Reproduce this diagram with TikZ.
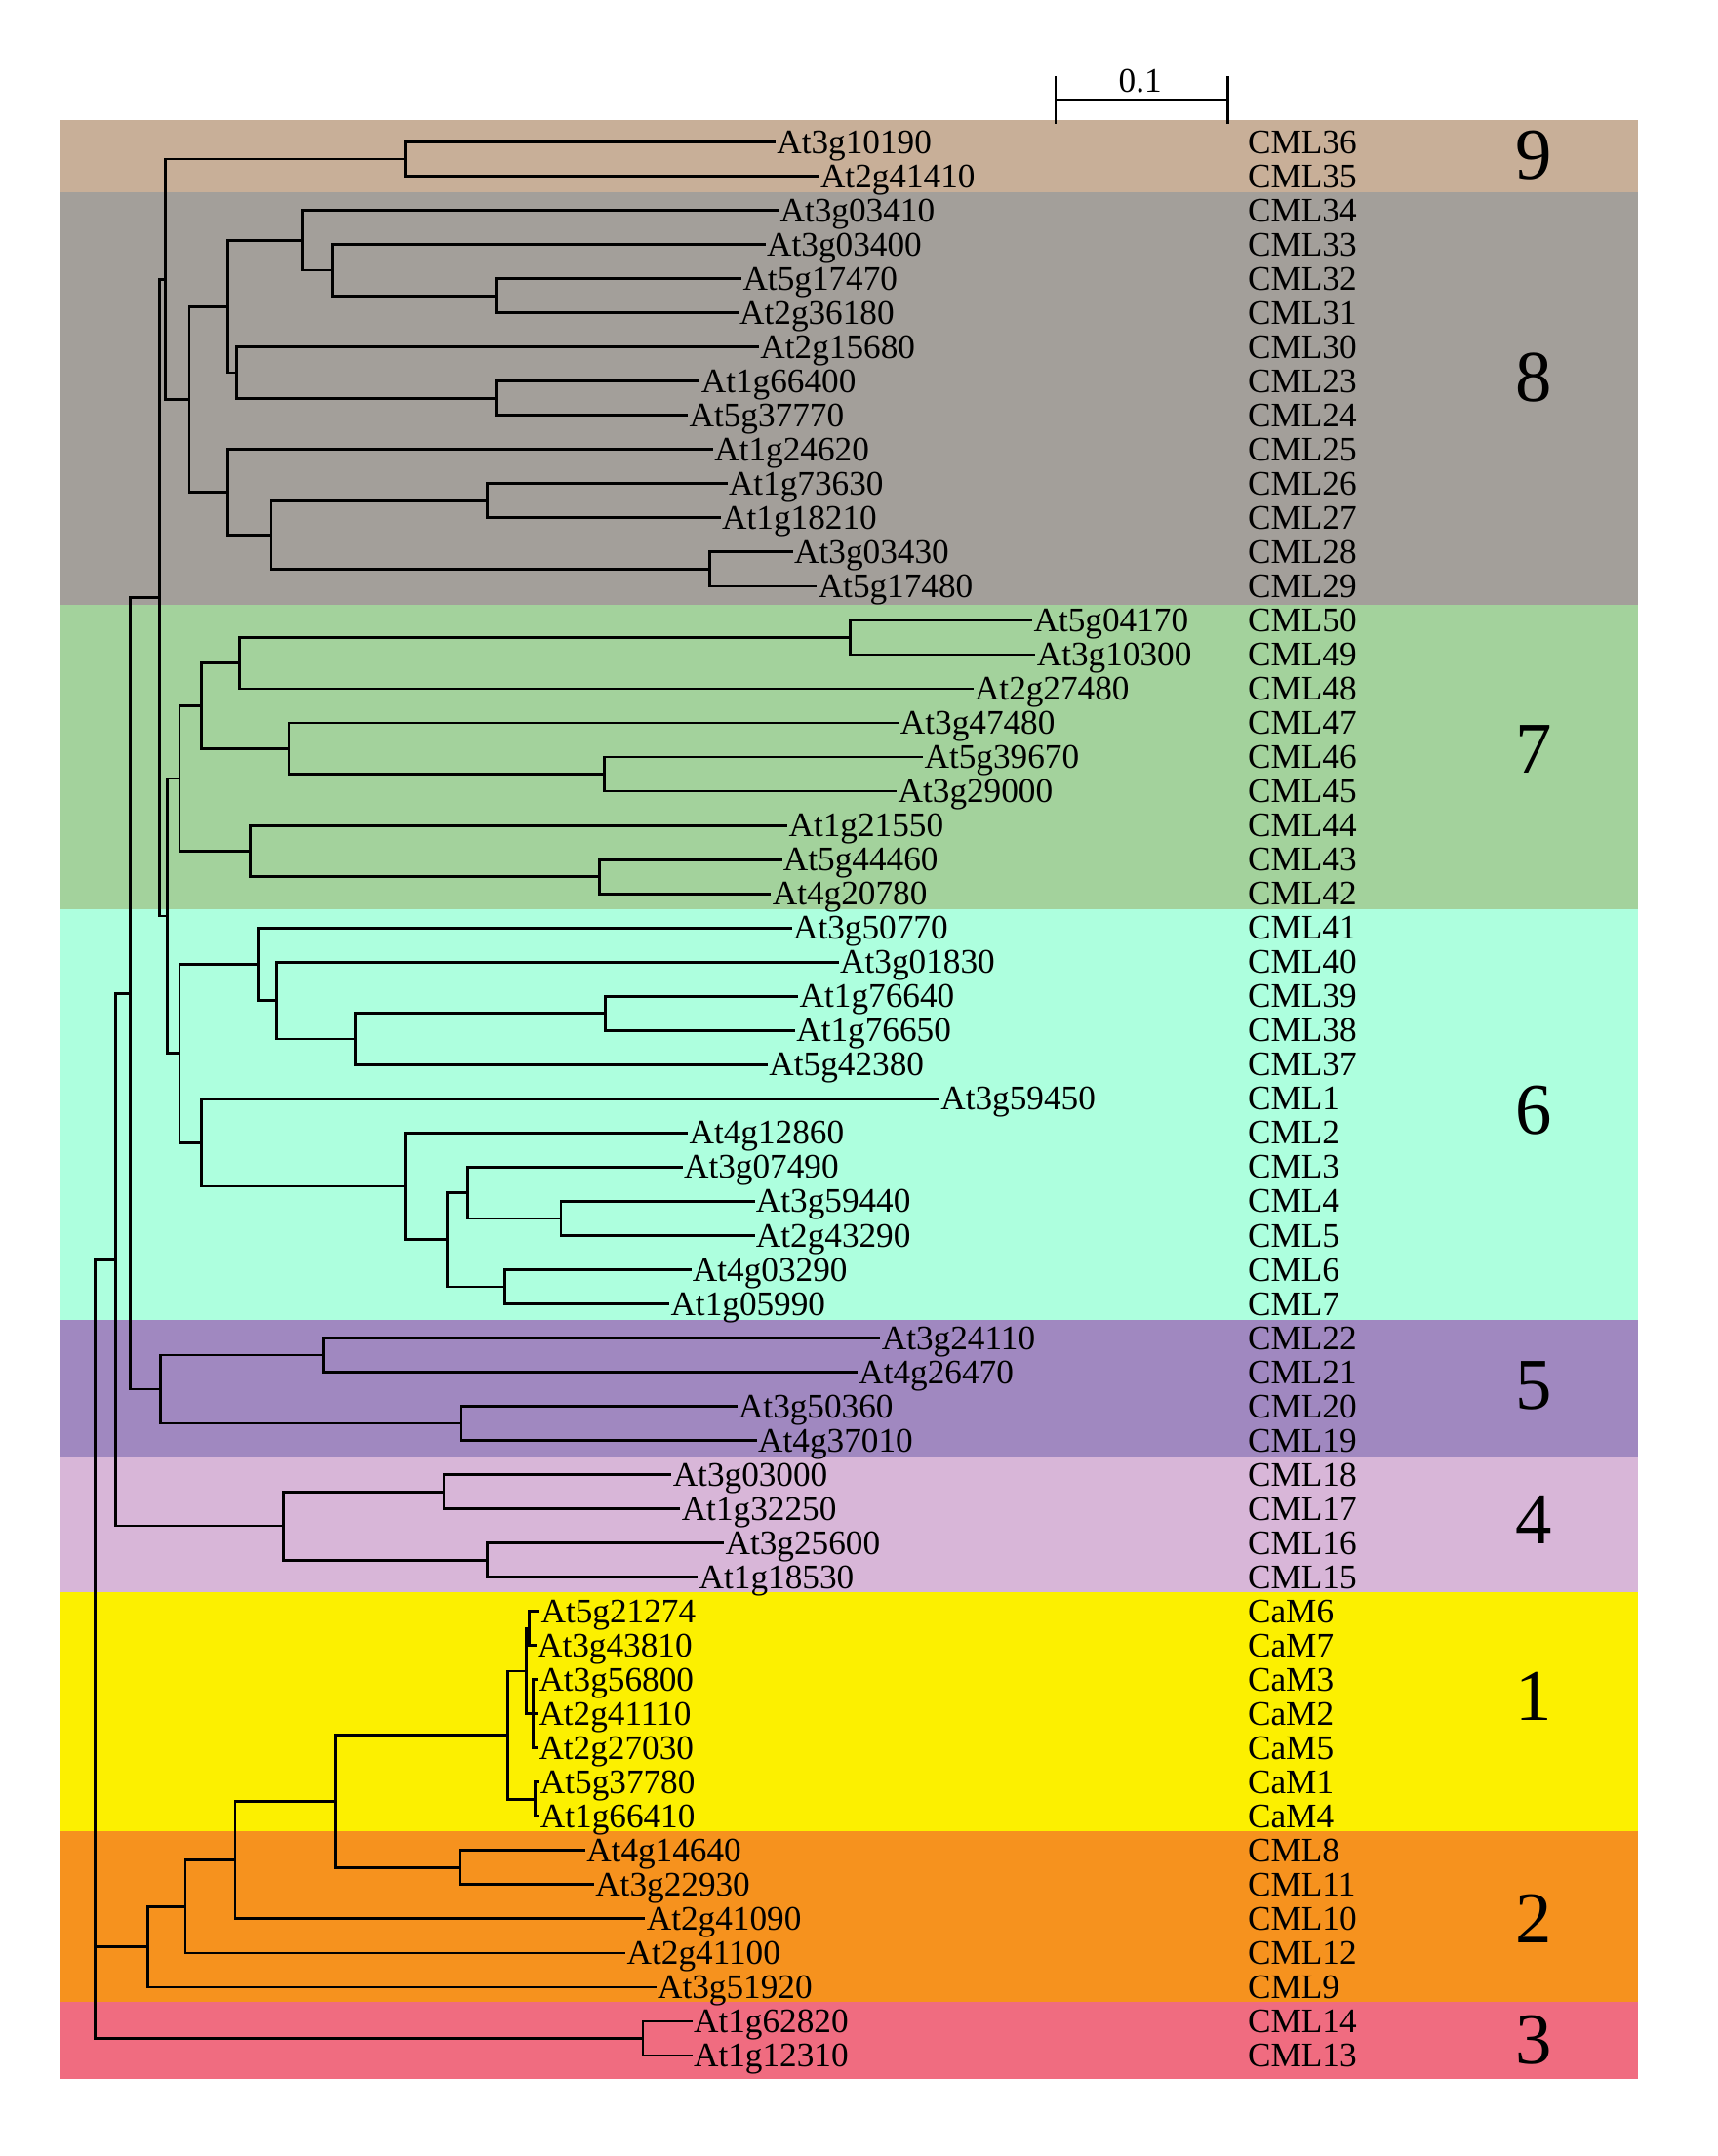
\documentclass[tikz,border=0pt]{standalone}
\usepackage{fontspec}
\setmainfont{Liberation Serif}
\newcommand\labfont{\fontsize{12.5}{14}\selectfont}
\newcommand\cladefont{\fontsize{26.5}{30}\selectfont}
\definecolor{cnine}{RGB}{200,175,152}
\definecolor{ceight}{RGB}{163,159,154}
\definecolor{cseven}{RGB}{163,210,156}
\definecolor{csix}{RGB}{173,255,222}
\definecolor{cfive}{RGB}{160,136,192}
\definecolor{cfour}{RGB}{216,182,216}
\definecolor{cone}{RGB}{252,240,0}
\definecolor{ctwo}{RGB}{246,146,30}
\definecolor{cthree}{RGB}{240,108,128}
\begin{document}
\begin{tikzpicture}[x=0.5pt,y=-0.5pt,
  br/.style={line width=1pt, line cap=rect},
  leaf/.style={anchor=west, inner xsep=0.8pt, inner ysep=0pt, text height=8.25pt, text depth=0pt, font=\labfont},
  cml/.style={leaf},
  num/.style={inner sep=0pt, text height=18pt, text depth=0pt, font=\cladefont}]
\useasboundingbox (0,0) rectangle (1249,1568);
% clade bands
\fill[cnine]  (43,87.3) rectangle (1191,140);
\fill[ceight] (43,140) rectangle (1191,440);
\fill[cseven] (43,440) rectangle (1191,661);
\fill[csix]   (43,661) rectangle (1191,960);
\fill[cfive]  (43,960) rectangle (1191,1059);
\fill[cfour]  (43,1059) rectangle (1191,1158);
\fill[cone]   (43,1158) rectangle (1191,1332);
\fill[ctwo]   (43,1332) rectangle (1191,1456);
\fill[cthree] (43,1456) rectangle (1191,1512);
% scale bar
\coordinate (sbl) at (767.7,72.6);
\coordinate (sbr) at (893.1,72.6);
\draw[br] (sbl) -- (sbr);
\draw[br] ([yshift=-8.2]sbl) -- ([yshift=8.2]sbl);
\draw[br] ([yshift=-8.2]sbr) -- ([yshift=8.2]sbr);
\node[anchor=base, inner sep=0pt, font=\labfont] (sbt) at (829.2,67.4) {0.1};
% leaves
\foreach \x/\t [count=\i from 0] in {
 563/At3g10190, 594.7/At2g41410, 565.3/At3g03410, 555.8/At3g03400, 538.3/At5g17470,
 535.9/At2g36180, 551/At2g15680, 508/At1g66400, 499.3/At5g37770, 517.6/At1g24620,
 528/At1g73630, 523.2/At1g18210, 575.7/At3g03430, 593.1/At5g17480, 749.8/At5g04170,
 752.1/At3g10300, 706.8/At2g27480, 652.8/At3g47480, 670.3/At5g39670, 651.2/At3g29000,
 571.7/At1g21550, 567.7/At5g44460, 559.8/At4g20780, 574.9/At3g50770, 609/At3g01830,
 579.6/At1g76640, 577.2/At1g76650, 557.4/At5g42380, 682.2/At3g59450, 499.3/At4g12860,
 495.4/At3g07490, 547.8/At3g59440, 547.8/At2g43290, 501.7/At4g03290, 485.8/At1g05990,
 639.3/At3g24110, 622.6/At4g26470, 535.1/At3g50360, 549.4/At4g37010, 487.4/At3g03000,
 493.8/At1g32250, 525.6/At3g25600, 506.5/At1g18530, 391.5/At5g21274, 389/At3g43810,
 390/At3g56800, 390/At2g41110, 390/At2g27030, 391/At5g37780, 391/At1g66410,
 424.6/At4g14640, 431/At3g22930, 468.3/At2g41090, 454/At2g41100, 476.3/At3g51920,
 502.5/At1g62820, 502.5/At1g12310}
 \node[leaf] (l\i) at (\x,{103.3+24.85*\i}) {\t};
% CML names
\foreach \t [count=\i from 0] in {
 CML36, CML35, CML34, CML33, CML32, CML31, CML30, CML23, CML24, CML25, CML26, CML27, CML28, CML29,
 CML50, CML49, CML48, CML47, CML46, CML45, CML44, CML43, CML42,
 CML41, CML40, CML39, CML38, CML37, CML1, CML2, CML3, CML4, CML5, CML6, CML7,
 CML22, CML21, CML20, CML19, CML18, CML17, CML16, CML15,
 CaM6, CaM7, CaM3, CaM2, CaM5, CaM1, CaM4,
 CML8, CML11, CML10, CML12, CML9, CML14, CML13}
 \node[cml] (c\i) at (905.5,{103.3+24.85*\i}) {\t};
% clade numbers
\node[num] (k9) at (1115.4,112.3) {9};
\node[num] (k8) at (1115.4,273.7) {8};
\node[num] (k7) at (1115.4,544.6) {7};
\node[num] (k6) at (1115.4,806.6) {6};
\node[num] (k5) at (1115.4,1006.9) {5};
\node[num] (k4) at (1115.4,1104.8) {4};
\node[num] (k1) at (1115.4,1233.3) {1};
\node[num] (k2) at (1115.4,1394.9) {2};
\node[num] (k3) at (1115.4,1483.2) {3};
% internal nodes
\coordinate (n9) at (295,115.7);
\coordinate (c8a1c) at (361,215.1);
\coordinate (c8a1b) at (241.8,196.5);
\coordinate (c8a1) at (220.3,174.7);
\coordinate (c8a2b) at (361,289.7);
\coordinate (c8a2) at (171.8,271.0);
\coordinate (c8a) at (165.4,222.9);
\coordinate (c8b2a) at (354.6,364.2);
\coordinate (c8b2b) at (516,413.9);
\coordinate (c8b2) at (197.2,389.1);
\coordinate (c8b) at (165.4,358.0);
\coordinate (c8) at (137.6,290.5);
\coordinate (a3) at (120,203.1);
\coordinate (c7a1a) at (618.6,463.6);
\coordinate (c7a1) at (174.2,482.3);
\coordinate (c7a2b) at (439.7,563.0);
\coordinate (c7a2) at (210,544.4);
\coordinate (c7a) at (146.4,513.3);
\coordinate (c7b2) at (435.7,637.6);
\coordinate (c7b) at (182.1,619.0);
\coordinate (c7) at (130.5,566.2);
\coordinate (c6a3a) at (440.5,737.0);
\coordinate (c6a3) at (258.4,755.6);
\coordinate (c6a2) at (201.2,727.7);
\coordinate (c6a) at (187.7,701.3);
\coordinate (c6b4) at (408,886.1);
\coordinate (c6b3) at (340.3,867.4);
\coordinate (c6b5) at (367.4,935.8);
\coordinate (c6b2) at (325.2,901.6);
\coordinate (c6b1) at (295,862.8);
\coordinate (c6b) at (146.4,830.9);
\coordinate (c6) at (130.5,766.1);
\coordinate (a4) at (121.8,666.2);
\coordinate (a2) at (115.9,434.6);
\coordinate (c5a) at (235.4,985.5);
\coordinate (c5b) at (335.6,1035.2);
\coordinate (c5) at (116.9,1010.3);
\coordinate (a1) at (94.6,722.5);
\coordinate (c4a) at (322.8,1084.9);
\coordinate (c4b) at (354.6,1134.6);
\coordinate (c4) at (206,1109.7);
\coordinate (a) at (84.0,916.1);
\coordinate (c3) at (467.5,1482.5);
\coordinate (c2a) at (334.8,1358.2);
\coordinate (c1a1) at (384.9,1184.3);
\coordinate (c1a2) at (388,1246.4);
\coordinate (c1a) at (382.5,1215.3);
\coordinate (c1b) at (389,1308.5);
\coordinate (c1) at (369.5,1261.9);
\coordinate (c12a) at (243.5,1310.1);
\coordinate (c12b) at (171,1352.8);
\coordinate (c12c) at (134.8,1386.6);
\coordinate (c12) at (107.2,1415.9);
\coordinate (root) at (69.1,1199.3);
% branches
\foreach \p/\c in {
 root/a, root/c12, root/c3,
 a/a1, a/c4, a1/a2, a1/c5, a2/a3, a2/a4, a3/n9, a3/c8,
 n9/l0.west, n9/l1.west,
 c8/c8a, c8/c8b, c8a/c8a1, c8a/c8a2,
 c8a1/l2.west, c8a1/c8a1b, c8a1b/l3.west, c8a1b/c8a1c, c8a1c/l4.west, c8a1c/l5.west,
 c8a2/l6.west, c8a2/c8a2b, c8a2b/l7.west, c8a2b/l8.west,
 c8b/l9.west, c8b/c8b2, c8b2/c8b2a, c8b2/c8b2b,
 c8b2a/l10.west, c8b2a/l11.west, c8b2b/l12.west, c8b2b/l13.west,
 a4/c7, a4/c6,
 c7/c7a, c7/c7b, c7a/c7a1, c7a/c7a2, c7a1/c7a1a, c7a1/l16.west,
 c7a1a/l14.west, c7a1a/l15.west, c7a2/l17.west, c7a2/c7a2b,
 c7a2b/l18.west, c7a2b/l19.west, c7b/l20.west, c7b/c7b2, c7b2/l21.west, c7b2/l22.west,
 c6/c6a, c6/c6b, c6a/l23.west, c6a/c6a2, c6a2/l24.west, c6a2/c6a3,
 c6a3/c6a3a, c6a3/l27.west, c6a3a/l25.west, c6a3a/l26.west,
 c6b/l28.west, c6b/c6b1, c6b1/l29.west, c6b1/c6b2, c6b2/c6b3, c6b2/c6b5,
 c6b3/l30.west, c6b3/c6b4, c6b4/l31.west, c6b4/l32.west, c6b5/l33.west, c6b5/l34.west,
 c5/c5a, c5/c5b, c5a/l35.west, c5a/l36.west, c5b/l37.west, c5b/l38.west,
 c4/c4a, c4/c4b, c4a/l39.west, c4a/l40.west, c4b/l41.west, c4b/l42.west,
 c12/c12c, c12/l54.west, c12c/c12b, c12c/l53.west, c12b/c12a, c12b/l52.west,
 c12a/c1, c12a/c2a, c1/c1a, c1/c1b, c1a/c1a1, c1a/c1a2,
 c1a1/l43.west, c1a1/l44.west, c1a2/l45.west, c1a2/l46.west, c1a2/l47.west,
 c1b/l48.west, c1b/l49.west, c2a/l50.west, c2a/l51.west,
 c3/l55.west, c3/l56.west}
 \draw[br] (\p) |- (\c);
\end{tikzpicture}
\end{document}
